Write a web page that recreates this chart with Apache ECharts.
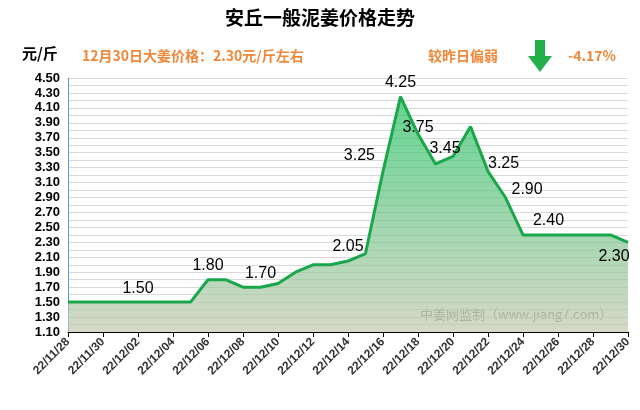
<!DOCTYPE html><html><head><meta charset="utf-8"><script src="https://cdn.jsdelivr.net/npm/echarts@6/dist/echarts.min.js"></script></head><body style="margin:0"><div id="c" style="width:640px;height:410px"></div><script>
const categories=["22/11/28","22/11/29","22/11/30","22/12/01","22/12/02","22/12/03","22/12/04","22/12/05","22/12/06","22/12/07","22/12/08","22/12/09","22/12/10","22/12/11","22/12/12","22/12/13","22/12/14","22/12/15","22/12/16","22/12/17","22/12/18","22/12/19","22/12/20","22/12/21","22/12/22","22/12/23","22/12/24","22/12/25","22/12/26","22/12/27","22/12/28","22/12/29","22/12/30"];
const prices=[1.5,1.5,1.5,1.5,1.5,1.5,1.5,1.5,1.8,1.8,1.7,1.7,1.75,1.9,2.0,2.0,2.05,2.15,3.25,4.25,3.75,3.35,3.45,3.85,3.25,2.9,2.4,2.4,2.4,2.4,2.4,2.4,2.3];
const labelled=[4,8,11,16,18,19,20,22,24,25,27,32];
const yTicks={min:1.1,max:4.5,interval:0.2};
const orange='#f0883a';
const pos={18:['left',[-2,-16]],20:['top',[0,8]],22:['top',[-8,6]],24:['right',[-6,-8]],25:['right',[0,-8]],27:['top',[8,0]],32:['bottom',[-14,0]]};
const data=prices.map((v,i)=>{const o={value:v};if(labelled.includes(i)){const p=pos[i]||['top',[0,0]];o.label={show:true,position:p[0],offset:p[1]};}return o;});
const c=echarts.init(document.getElementById('c'));
c.setOption({animation:false,
graphic:[
{type:'text',left:'center',top:8,style:{text:'安丘一般泥姜价格走势',font:'bold 19px "Noto Sans CJK SC"',fill:'#000'}},
{type:'text',left:22,top:46,style:{text:'元/斤',font:'bold 15px "Noto Sans CJK SC"',fill:'#000'}},
{type:'text',left:82,top:49,style:{text:'12月30日大姜价格：2.30元/斤左右',font:'bold 14px "Noto Sans CJK SC"',fill:orange}},
{type:'text',left:428,top:49,style:{text:'较昨日偏弱',font:'bold 14px "Noto Sans CJK SC"',fill:orange}},
{type:'polygon',shape:{points:[[535,40],[545,40],[545,56],[552,56],[540,72],[528,56],[535,56]]},style:{fill:'#22b04a'}},
{type:'text',left:568,top:49,style:{text:'-4.17%',font:'bold 14px "Noto Sans CJK SC"',fill:orange}},
{type:'text',left:420,top:308,style:{text:'中姜网监制（www.jiang7.com）',font:'13px "Noto Sans CJK SC"',fill:'#888'}}
],
grid:{left:68,right:12,top:78,bottom:78},
xAxis:{type:'category',data:categories,boundaryGap:false,axisLine:{lineStyle:{color:'#000'}},axisTick:{interval:1,lineStyle:{color:'#000'}},axisLabel:{interval:1,rotate:45,color:'#333',fontSize:12,fontWeight:'bold',margin:8}},
yAxis:{type:'value',min:yTicks.min,max:yTicks.max,interval:yTicks.interval,axisLine:{show:true,lineStyle:{color:'#5b9bd5'}},axisLabel:{color:'#000',fontSize:13,fontWeight:'bold',formatter:v=>v.toFixed(2)},splitLine:{lineStyle:{color:'#d9d9d9'}},minorTick:{show:false,splitNumber:2},minorSplitLine:{show:true,lineStyle:{color:'#d9d9d9'}}},
series:[{type:'line',data:data,symbol:'circle',symbolSize:2,showSymbol:true,itemStyle:{color:'rgba(0,0,0,0)'},lineStyle:{color:'#1aa64a',width:3},
label:{show:false,color:'#000',fontSize:16,formatter:p=>p.value.toFixed(2)},
areaStyle:{color:new echarts.graphic.LinearGradient(0,0,0,1,[{offset:0,color:'#20c060'},{offset:1,color:'#c2c8b0'}])}}]
});
</script></body></html>
